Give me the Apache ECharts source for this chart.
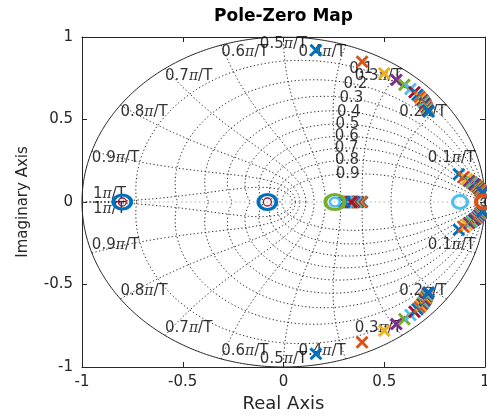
<!DOCTYPE html>
<html><head><meta charset="utf-8">
<script src="https://cdn.jsdelivr.net/npm/echarts@6/dist/echarts.min.js"></script>
<style>html,body{margin:0;padding:0;background:#fff}#c{width:487px;height:415px}</style>
</head><body><div id="c"></div>
<script>
// MATLAB default colour order, one colour per system (cycled)
const palette = ['#0072BD','#D95319','#EDB120','#7E2F8E','#77AC30','#4DBEEE','#A2142F'];

// Complex pole pairs on the outer arc (upper half, conjugates mirrored), one per system
const arcPoleRe = [0.161,0.390,0.500,0.560,0.600,0.630,0.650,0.665,0.676,0.684,0.690,0.695,0.699,0.702,0.705,0.707,0.709,0.711,0.713,0.715,0.717,0.720];
const arcPoleIm = [0.920,0.850,0.780,0.740,0.710,0.685,0.665,0.650,0.637,0.626,0.617,0.609,0.602,0.595,0.589,0.583,0.577,0.571,0.565,0.559,0.553,0.548];
// Complex pole pairs close to z = 1 (upper half, conjugates mirrored)
const edgePoleRe = [0.870,0.893,0.910,0.922,0.932,0.940,0.947,0.953,0.958,0.962,0.965,0.968,0.971,0.973,0.975,0.977,0.979,0.981,0.983,0.985,0.987,0.990];
const edgePoleIm = [0.168,0.150,0.138,0.128,0.120,0.113,0.107,0.102,0.097,0.093,0.089,0.085,0.082,0.079,0.076,0.073,0.070,0.067,0.064,0.061,0.058,0.055];
// Real poles
const realPole = [0.390,0.385,0.375,0.370,0.362,0.356,0.350,0.346,0.342,0.339,0.336,0.333,0.330,0.328,0.325,0.322,0.320,0.318,0.315,0.312,0.338,0.302];
// Zeros (real) and the system each belongs to
const zeroRe  = [-0.80, -0.80, -0.08, -0.08, 0.255, 0.255, 0.876, 0.990];
const zeroSys = [21, 20, 21, 20, 18, 19, 19, 15];

// Grid definition (zgrid): damping ratios and natural frequencies (x pi/T)
const zetaList = [0.1,0.2,0.3,0.4,0.5,0.6,0.7,0.8,0.9];
const wnList = [0.1,0.2,0.3,0.4,0.5,0.6,0.7,0.8,0.9,1];
const wnLabels = ['0.1','0.2','0.3','0.4','0.5','0.6','0.7','0.8','0.9','1'];
const zetaLabels = ['0.1','0.2','0.3','0.4','0.5','0.6','0.7','0.8','0.9'];

// styles (kept separate from data)
const zeroStyle = [
  {size:[18,14], bw:3.5}, {size:[8,8], bw:1.3},
  {size:[18,15], bw:3.5}, {size:[8,8], bw:1.3},
  {size:[19,15], bw:3.5}, {size:[10,9], bw:2.5},
  {size:[15,13], bw:3},   {size:[14,13], bw:4}
];
const gridColor = '#2a2a2a';
const FONT = 'DejaVu Sans';

const PI = Math.PI;
function zetaCurve(z, s) {
  const m = z / Math.sqrt(1 - z*z), pts = [];
  for (let k = 0; k <= 300; k++) {
    const th = PI * k / 300, r = Math.exp(-m*th);
    pts.push([r*Math.cos(th), s*r*Math.sin(th)]);
  }
  return pts;
}
function wnCurve(w, s) {
  const pts = [];
  for (let k = 0; k <= 200; k++) {
    const phi = (PI/2) * (1 - k/200); // zeta = cos(phi)
    const z = Math.cos(phi), r = Math.exp(-z*w), a = w*Math.sin(phi);
    pts.push([r*Math.cos(a), s*r*Math.sin(a)]);
  }
  return pts;
}
function unitCircle() {
  const pts = [];
  for (let k = 0; k <= 400; k++) { const a = 2*PI*k/400; pts.push([Math.cos(a), Math.sin(a)]); }
  return pts;
}

const series = [];
const dotted = {color: gridColor, width: 1, type: [1.3, 2.4]};
function lineSeries(data, ls, z) {
  return {type:'line', data, showSymbol:false, symbol:'none', silent:true, clip:true,
    lineStyle: ls, z: z||1, animation:false};
}
// real axis (light)
series.push(lineSeries([[-1,0],[1,0]], {color:'#b0b0b0', width:1.2, type:[1.5,3]}));
zetaList.forEach(z => { series.push(lineSeries(zetaCurve(z,1), dotted)); series.push(lineSeries(zetaCurve(z,-1), dotted)); });
wnList.forEach(w => { series.push(lineSeries(wnCurve(w*PI,1), dotted)); series.push(lineSeries(wnCurve(w*PI,-1), dotted)); });
series.push(lineSeries(unitCircle(), {color:'#262626', width:1, type:'solid'}));

// labels for natural frequency curves
const lblRich = {
  n: {fontFamily: FONT, fontSize: 15, color: '#000'},
  p: {fontFamily: 'DejaVu Serif', fontStyle: 'italic', fontSize: 14, color: '#000'}
};
const wnLabelData = [];
wnList.forEach((w, i) => {
  const a = w*PI;
  const align = w < 0.5 ? 'right' : (w === 0.5 ? 'center' : 'left');
  [1, -1].forEach(s => {
    let va = s > 0 ? 'top' : 'bottom', dx = 0;
    if (w === 1) { va = s > 0 ? 'bottom' : 'top'; dx = 11; }
    wnLabelData.push({
      value: [Math.cos(a), s*Math.sin(a)],
      label: {formatter: '{n|' + wnLabels[i] + '}{p|π}{n|/T}', align, verticalAlign: va, offset: [dx, 0]}
    });
  });
});
series.push({type:'scatter', data: wnLabelData, symbolSize: 0, silent:true, z: 5,
  label: {show: true, position: [0,0], rich: lblRich}});
// labels for damping curves
const zetaLabelData = zetaList.map((z, i) => {
  const w = 1.13, r = Math.exp(-z*w), a = w*Math.sqrt(1-z*z);
  return {value: [r*Math.cos(a), r*Math.sin(a)], label: {formatter: zetaLabels[i]}};
});
series.push({type:'scatter', data: zetaLabelData, symbolSize: 0, silent:true, z: 5,
  label: {show:true, position:[0,0], align:'center', verticalAlign:'middle', fontFamily: FONT, fontSize: 15, color:'#000'}});

// poles (x) and zeros (o), system by system
const xPath = 'path://M0,1.6L1.6,0L5,3.4L8.4,0L10,1.6L6.6,5L10,8.4L8.4,10L5,6.6L1.6,10L0,8.4L3.4,5Z';
for (let i = 0; i < arcPoleRe.length; i++) {
  const col = palette[i % palette.length];
  series.push({type:'scatter', symbol: xPath, symbolSize: 13, z: 10 + i, silent: true,
    itemStyle: {color: col, opacity: 1},
    data: [[arcPoleRe[i], arcPoleIm[i]], [arcPoleRe[i], -arcPoleIm[i]],
           [edgePoleRe[i], edgePoleIm[i]], [edgePoleRe[i], -edgePoleIm[i]],
           [realPole[i], 0]]});
}
zeroRe.forEach((x, j) => {
  const col = palette[zeroSys[j] % palette.length];
  series.push({type:'scatter', symbol:'circle', symbolSize: zeroStyle[j].size, z: 40 + j, silent:true,
    itemStyle: {color:'rgba(0,0,0,0)', borderColor: col, borderWidth: zeroStyle[j].bw, opacity: 1},
    data: [[x, 0]]});
});

const axisCommon = {type:'value', min:-1, max:1, interval:0.5,
  axisLine:{show:true, onZero:false, lineStyle:{color:'#262626', width:1}},
  axisTick:{show:true, inside:true, length:5, lineStyle:{color:'#262626'}},
  splitLine:{show:false}};
const option = {
  animation: false,
  backgroundColor: '#fff',
  textStyle: {fontFamily: FONT},
  grid: {left: 82, right: 2, top: 37, bottom: 48, containLabel: false, outerBoundsMode: 'none'},
  xAxis: [
    Object.assign({}, axisCommon, {position:'bottom', name:'Real Axis', nameLocation:'middle', nameGap: 26,
      nameTextStyle:{fontSize:18, color:'#262626', fontFamily: FONT},
      axisLabel:{fontSize:15, color:'#262626', margin:8, fontFamily: FONT}}),
    Object.assign({}, axisCommon, {position:'top', axisLabel:{show:false}})
  ],
  yAxis: [
    Object.assign({}, axisCommon, {position:'left', name:'Imaginary Axis', nameLocation:'middle', nameGap: 51,
      nameTextStyle:{fontSize:15, color:'#262626', fontFamily: FONT},
      axisLabel:{fontSize:15, color:'#262626', margin:9, fontFamily: FONT}}),
    Object.assign({}, axisCommon, {position:'right', axisLabel:{show:false}})
  ],
  graphic: [{type:'text', x: 283.5, y: 8, z: 100,
    style: {text:'Pole-Zero Map', fontFamily: FONT, fontSize: 17, fontWeight:'bold', fill:'#000',
      align:'center', textAlign:'center', verticalAlign:'top', textVerticalAlign:'top'}}],
  series
};
const chart = echarts.init(document.getElementById('c'), null, {renderer:'canvas'});
chart.setOption(option);
</script></body></html>
